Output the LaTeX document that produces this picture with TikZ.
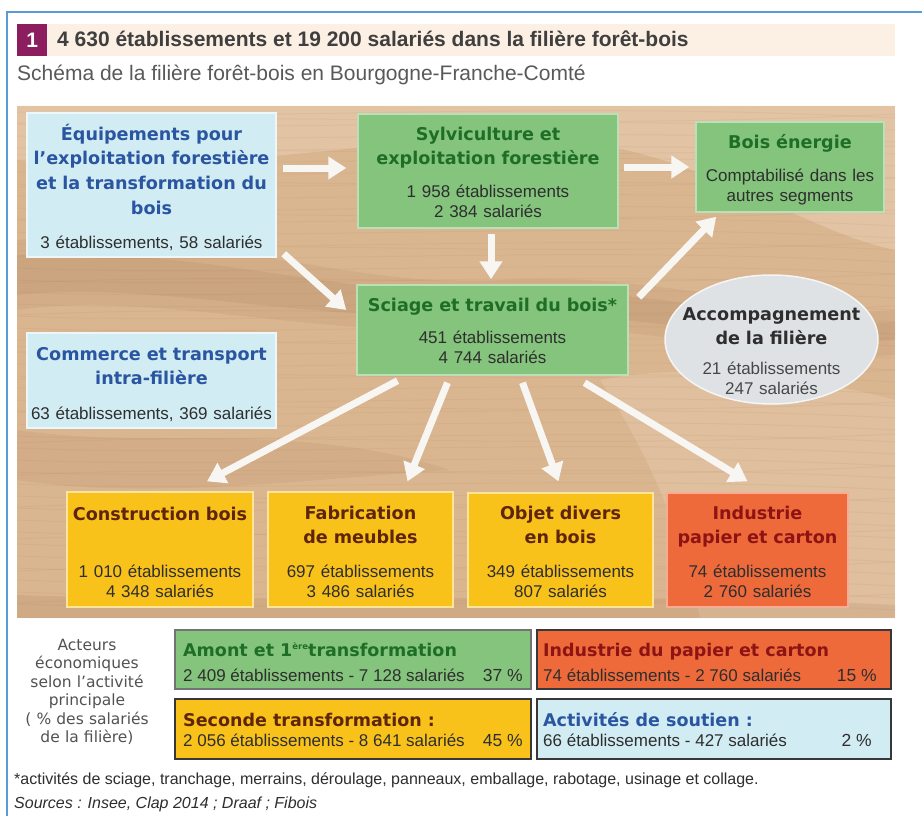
\documentclass[tikz,border=0pt]{standalone}
\usepackage{fontspec}
\setmainfont{Liberation Sans}
\newfontfamily\dejavu{DejaVu Sans}
\usetikzlibrary{arrows.meta,calc,shapes.geometric}

\definecolor{framecol}{HTML}{5B9BD5}
\definecolor{titlebar}{HTML}{FCEFE4}
\definecolor{purp}{HTML}{8C1D5E}
\definecolor{titletxt}{HTML}{3F3F3F}
\definecolor{subtxt}{HTML}{595959}
\definecolor{woodbase}{HTML}{D9B590}
\definecolor{wooddark}{HTML}{9C6E48}
\definecolor{woodlight}{HTML}{EBD2B8}
\definecolor{bluefill}{HTML}{D2ECF3}
\definecolor{bluetxt}{HTML}{2A55A0}
\definecolor{greenfill}{HTML}{84C47C}
\definecolor{greentxt}{HTML}{1F6E28}
\definecolor{yellowfill}{HTML}{F9C21B}
\definecolor{browntxt}{HTML}{5E2508}
\definecolor{redfill}{HTML}{EE6A3B}
\definecolor{redtxt}{HTML}{8E1414}
\definecolor{grayfill}{HTML}{DFE2E5}
\definecolor{numtxt}{HTML}{2E2E2E}
\definecolor{arrowcol}{HTML}{F8F6F3}

\begin{document}
\begin{tikzpicture}[x=1pt,y=-1pt,
  bluebox/.style={rectangle, fill=bluefill, draw=bluefill!40!white, line width=1.5pt, inner sep=0pt},
  greenbox/.style={rectangle, fill=greenfill, draw=greenfill!55!white, line width=1.5pt, inner sep=0pt},
  yellowbox/.style={rectangle, fill=yellowfill, draw=yellowfill!45!white, line width=1.2pt, inner sep=0pt},
  redbox/.style={rectangle, fill=redfill, draw=redfill!55!white, line width=1.2pt, inner sep=0pt},
  legbox/.style={rectangle, draw=black!78, line width=1.5pt, inner sep=0pt, anchor=north west},
  boxtitle/.style={anchor=base, inner sep=0pt, text width=#1, align=center,
    font=\dejavu\bfseries\fontsize{17.6}{24.8}\selectfont},
  boxtitle/.default=250pt,
  boxnum/.style={anchor=base, inner sep=0pt, text width=#1, align=center,
    font=\fontsize{17}{20.5}\selectfont, text=numtxt},
  boxnum/.default=250pt,
  legtitle/.style={anchor=base west, inner sep=0pt, font=\dejavu\bfseries\fontsize{17.5}{20}\selectfont},
  legnum/.style={anchor=base west, inner sep=0pt, font=\fontsize{17}{20}\selectfont, text=numtxt},
  legpct/.style={anchor=base east, inner sep=0pt, font=\fontsize{17.5}{20}\selectfont, text=numtxt},
  arr/.style={draw=arrowcol, line width=7pt, -{Triangle[width=22pt,length=18pt]}},
  grain/.style={wooddark, opacity=0.08, line width=1pt}
]
\useasboundingbox (0,0) rectangle (922,816);
\fill[white] (0,0) rectangle (922,816);

% frame
\draw[framecol, line width=1.5pt] (7,816) -- (7,12) -- (922,12);

% title bar
\fill[titlebar] (17,24) rectangle (895,56);
\node[fill=purp, minimum width=30pt, minimum height=32pt, inner sep=0pt, anchor=north west,
  text=white, font=\bfseries\fontsize{21}{21}\selectfont] (num) at (17,24) {1};
\node[anchor=base west, inner sep=0pt, text=titletxt, font=\bfseries\fontsize{21}{24}\selectfont]
  (title) at (57,47) {4 630 établissements et 19 200 salariés dans la filière forêt-bois};
\node[anchor=base west, inner sep=0pt, text=subtxt, font=\fontsize{21}{24}\selectfont]
  (subtitle) at (17,81) {Schéma de la filière forêt-bois en Bourgogne-Franche-Comté};

% wood background
\begin{scope}
  \clip (17,106) rectangle (895,618);
  \fill[woodbase] (17,106) rectangle (895,618);
  \fill[woodlight, opacity=0.5] (17,106) -- (895,106) -- (895,250) .. controls (800,230) and (700,150) .. (560,140) .. controls (400,130) and (200,180) .. (17,160) -- cycle;
  \fill[woodlight, opacity=0.35] (600,380) .. controls (700,360) and (820,380) .. (895,400) -- (895,618) -- (700,618) .. controls (680,520) and (640,440) .. (600,380) -- cycle;
  \fill[wooddark, opacity=0.10] (17,240) .. controls (200,225) and (350,290) .. (500,280) .. controls (650,270) and (800,320) .. (895,310) -- (895,355) .. controls (780,365) and (600,315) .. (480,328) .. controls (330,340) and (150,290) .. (17,310) -- cycle;
  \fill[wooddark, opacity=0.12] (17,255) .. controls (200,245) and (350,300) .. (500,292) .. controls (650,285) and (800,330) .. (895,322) -- (895,340) .. controls (780,350) and (600,305) .. (480,315) .. controls (330,325) and (150,280) .. (17,295) -- cycle;
  \fill[wooddark, opacity=0.10] (17,430) .. controls (150,450) and (300,420) .. (450,470) .. controls (300,480) and (150,500) .. (17,480) -- cycle;
  \fill[wooddark, opacity=0.14] (17,595) .. controls (300,605) and (600,590) .. (895,605) -- (895,618) -- (17,618) -- cycle;
  \foreach \yy in {112,124,...,612} {
    \draw[grain] (17,\yy) .. controls (260,\yy+10) and (560,\yy-12) .. (895,\yy+6);
  }
  \foreach \yy in {118,150,...,600} {
    \draw[grain] (17,\yy+5) .. controls (300,\yy-8) and (520,\yy+14) .. (895,\yy-4);
  }
\end{scope}

% boxes
\node[bluebox, minimum width=249pt, minimum height=144pt] (eq) at (151.5,185) {};
\node[boxtitle, text=bluetxt] (eqT) at (151.5,140) {Équipements pour\\l’exploitation forestière\\et la transformation du\\bois};
\node[boxnum] (eqN) at (151.5,248) {3 établissements, 58 salariés};

\node[bluebox, minimum width=249pt, minimum height=95pt] (com) at (151.5,380.5) {};
\node[boxtitle, text=bluetxt] (comT) at (151.5,360) {Commerce et transport\\intra-filière};
\node[boxnum] (comN) at (151.5,419) {63 établissements, 369 salariés};

\node[greenbox, minimum width=260pt, minimum height=114pt] (syl) at (488,171) {};
\node[boxtitle, text=greentxt] (sylT) at (488,140) {Sylviculture et\\exploitation forestière};
\node[boxnum] (sylN) at (488,197) {1 958 établissements\\2 384 salariés};

\node[greenbox, minimum width=271pt, minimum height=90pt] (sci) at (492.5,330) {};
\node[boxtitle=270pt, text=greentxt] (sciT) at (492.5,311) {Sciage et travail du bois*};
\node[boxnum] (sciN) at (492.5,343) {451 établissements\\4 744 salariés};

\node[greenbox, minimum width=188pt, minimum height=90pt] (be) at (790,167) {};
\node[boxtitle=188pt, text=greentxt] (beT) at (790,149) {Bois énergie};
\node[boxnum=188pt] (beN) at (790,181) {Comptabilisé dans les\\autres segments};

\node[ellipse, fill=grayfill, draw=white!92!gray, line width=1.5pt, minimum width=213pt,
  minimum height=129pt, inner sep=0pt] (acc) at (771.5,339.5) {};
\node[boxtitle=213pt, text=numtxt] (accT) at (771.5,320) {Accompagnement\\de la filière};
\node[boxnum=213pt, text=black!72] (accN) at (771.5,374) {21 établissements\\247 salariés};

\node[yellowbox, minimum width=186pt, minimum height=115pt] (con) at (160,549.5) {};
\node[boxtitle=186pt, text=browntxt] (conT) at (160,520) {Construction bois};
\node[boxnum=186pt] (conN) at (160,577) {1 010 établissements\\4 348 salariés};

\node[yellowbox, minimum width=185pt, minimum height=115pt] (fab) at (360.5,549.5) {};
\node[boxtitle=185pt, text=browntxt] (fabT) at (360.5,519) {Fabrication\\de meubles};
\node[boxnum=185pt] (fabN) at (360.5,577) {697 établissements\\3 486 salariés};

\node[yellowbox, minimum width=185pt, minimum height=114pt] (obj) at (560.5,550) {};
\node[boxtitle=185pt, text=browntxt] (objT) at (560.5,519) {Objet divers\\en bois};
\node[boxnum=185pt] (objN) at (560.5,577) {349 établissements\\807 salariés};

\node[redbox, minimum width=181pt, minimum height=114pt] (ind) at (757.5,550) {};
\node[boxtitle=181pt, text=redtxt] (indT) at (757.5,519) {Industrie\\papier et carton};
\node[boxnum=181pt] (indN) at (757.5,577) {74 établissements\\2 760 salariés};

% arrows
\draw[arr] ($(eq.east)+(6,-17)$) -- ($(syl.west)+(-11,-3)$);
\draw[arr] ($(eq.south east)+(7,-4)$) -- ($(sci.west)+(-10,-20)$);
\draw[arr] ($(syl.south)+(3,5)$) -- ($(sci.north)+(-1.5,-5)$);
\draw[arr] ($(syl.east)+(5,-4)$) -- ($(be.west)+(-6,0)$);
\draw[arr] ($(sci.north east)+(10,13)$) -- ($(be.south west)+(21,4)$);
\draw[arr] ($(sci.south)+(-95,5)$) -- ($(con.north)+(47,-10)$);
\draw[arr] ($(sci.south)+(-45,7)$) -- ($(fab.north)+(47,-10)$);
\draw[arr] ($(sci.south)+(30,7)$) -- ($(obj.north)+(-2,-11)$);
\draw[arr] ($(sci.south)+(92,7)$) -- ($(ind.north)+(-10,-11)$);

% legend
\node[anchor=base, inner sep=0pt, text width=160pt, align=center, font=\dejavu\fontsize{15.5}{18.5}\selectfont,
  text=black!68] (acteurs) at (87,650) {Acteurs\\économiques\\selon l’activité\\principale\\( \% des salariés\\de la filière)};

\node[legbox, fill=greenfill, draw=black!55, minimum width=356pt, minimum height=59pt] (amont) at (174,629) {};
\node[legbox, fill=redfill, minimum width=354pt, minimum height=59pt] (papier) at (536,629) {};
\node[legbox, fill=yellowfill, minimum width=356pt, minimum height=60pt] (seconde) at (174,698) {};
\node[legbox, fill=bluefill, minimum width=354pt, minimum height=60pt] (soutien) at (536,698) {};

\node[legtitle, text=greentxt] (amontT) at (183,656) {Amont et 1\raisebox{7pt}{\fontsize{8.5}{9}\selectfont ère}transformation};
\node[legnum] (amontN) at (183,681) {2 409 établissements - 7 128 salariés};
\node[legpct] (amontP) at (523,681) {37 \%};

\node[legtitle, text=redtxt] (papierT) at (543,656) {Industrie du papier et carton};
\node[legnum] (papierN) at (543,681) {74 établissements - 2 760 salariés};
\node[legpct] (papierP) at (877,681) {15 \%};

\node[legtitle, text=browntxt] (secondeT) at (183,726) {Seconde transformation :};
\node[legnum] (secondeN) at (183,746) {2 056 établissements - 8 641 salariés};
\node[legpct] (secondeP) at (523,746) {45 \%};

\node[legtitle, text=bluetxt] (soutienT) at (543,726) {Activités de soutien :};
\node[legnum] (soutienN) at (543,746) {66 établissements - 427 salariés};
\node[legpct] (soutienP) at (872,746) {2 \%};

% footer
\node[anchor=base west, inner sep=0pt, font=\fontsize{16}{18}\selectfont, text=numtxt] (foot) at (14,784)
  {*activités de sciage, tranchage, merrains, déroulage, panneaux, emballage, rabotage, usinage et collage.};
\node[anchor=base west, inner sep=0pt, font=\itshape\fontsize{16}{18}\selectfont, text=numtxt] (src) at (14,808)
  {Sources : Insee, Clap 2014 ; Draaf ; Fibois};
\end{tikzpicture}
\end{document}
